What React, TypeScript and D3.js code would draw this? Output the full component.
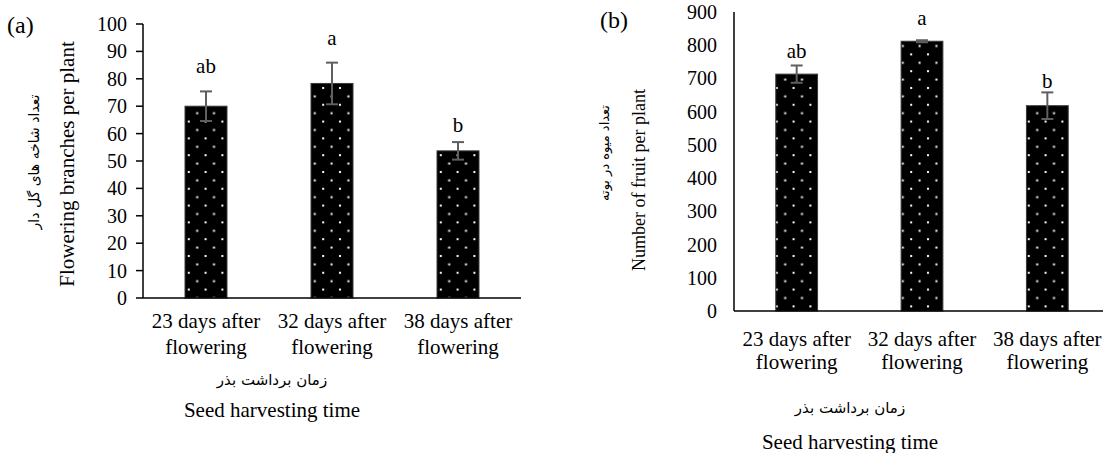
import React from "react";
import * as d3 from "d3";

// categories (two text lines each)
const categories = ["23 days after flowering", "32 days after flowering", "38 days after flowering"];
const categoryLines = [
  ["23 days after", "flowering"],
  ["32 days after", "flowering"],
  ["38 days after", "flowering"],
];

// panel (a) flowering branches per plant
const branchMeans = [70, 78.3, 53.7];
const branchErrors = [5.4, 7.6, 3.2];
const branchLetters = ["ab", "a", "b"];
const branchLetterLevels = [82, 92.3, 60.6];
const branchTicks = [0, 10, 20, 30, 40, 50, 60, 70, 80, 90, 100];

// panel (b) fruit per plant
const fruitMeans = [713, 812, 618];
const fruitErrors = [26, 3, 40];
const fruitLetters = ["ab", "a", "b"];
const fruitLetterLevels = [762, 861, 671];
const fruitTicks = [0, 100, 200, 300, 400, 500, 600, 700, 800, 900];

const serif = "Liberation Serif, Tinos, DejaVu Serif, serif";
const persian = "DejaVu Sans, sans-serif";
const errColor = "#5f5f5f";

type PanelProps = {
  tag: string;
  tagX: number;
  tagY: number;
  means: number[];
  errors: number[];
  letters: string[];
  letterLevels: number[];
  ticks: number[];
  xLeft: number;
  xRight: number;
  yZero: number;
  yTop: number;
  tickMarks: boolean;
  tickLabelX: number;
  yTitle: string;
  yTitleX: number;
  yTitleY: number;
  yTitleSize: number;
  yTitleFa: string;
  yTitleFaX: number;
  yTitleFaY: number;
  yTitleFaSize: number;
  catY1: number;
  catY2: number;
  xTitleX: number;
  xTitleFaY: number;
  xTitleY: number;
};

const Panel = (p: PanelProps) => {
  const y = d3
    .scaleLinear()
    .domain([0, p.ticks[p.ticks.length - 1]])
    .range([p.yZero, p.yTop]);
  const x = d3
    .scaleBand<string>()
    .domain(categories)
    .range([p.xLeft, p.xRight])
    .paddingInner(2 / 3)
    .paddingOuter(1 / 3);
  const bw = x.bandwidth();

  const bars = categories.map((c, i) => (
    <rect
      key={c}
      x={x(c)}
      y={y(p.means[i])}
      width={bw}
      height={y(0) - y(p.means[i])}
      fill="url(#dots)"
      stroke="#3a3a3a"
      strokeWidth={1}
    />
  ));

  const errs = categories.map((c, i) => {
    const cx = (x(c) as number) + bw / 2;
    const hi = y(p.means[i] + p.errors[i]);
    const lo = y(p.means[i] - p.errors[i]);
    return (
      <g key={c} stroke={errColor} strokeWidth={2}>
        <line x1={cx} x2={cx} y1={hi} y2={lo} />
        <line x1={cx - 6} x2={cx + 6} y1={hi} y2={hi} />
        <line x1={cx - 6} x2={cx + 6} y1={lo} y2={lo} />
      </g>
    );
  });

  const letters = categories.map((c, i) => (
    <text
      key={c}
      x={(x(c) as number) + bw / 2}
      y={y(p.letterLevels[i])}
      textAnchor="middle"
      fontSize={21}
    >
      {p.letters[i]}
    </text>
  ));

  const cats = categories.map((c, i) => (
    <text key={c} x={(x(c) as number) + bw / 2} textAnchor="middle" fontSize={21}>
      <tspan x={(x(c) as number) + bw / 2} y={p.catY1}>
        {categoryLines[i][0]}
      </tspan>
      <tspan x={(x(c) as number) + bw / 2} y={p.catY2}>
        {categoryLines[i][1]}
      </tspan>
    </text>
  ));

  const ticks = p.ticks.map((t) => (
    <g key={t}>
      {p.tickMarks && (
        <line x1={p.xLeft - 7} x2={p.xLeft} y1={y(t)} y2={y(t)} stroke="#000" strokeWidth={1.5} />
      )}
      <text x={p.tickLabelX} y={y(t)} dy="0.35em" textAnchor="end" fontSize={20}>
        {t}
      </text>
    </g>
  ));

  return (
    <g style={{ fontFamily: serif }} fill="#000">
      <text x={p.tagX} y={p.tagY} fontSize={24}>
        {p.tag}
      </text>
      {bars}
      {errs}
      {letters}
      <line x1={p.xLeft} x2={p.xLeft} y1={p.yTop} y2={p.yZero} stroke="#000" strokeWidth={1.5} />
      <line x1={p.xLeft} x2={p.xRight} y1={p.yZero} y2={p.yZero} stroke="#000" strokeWidth={1.5} />
      {ticks}
      {cats}
      <text
        transform={`translate(${p.yTitleX},${p.yTitleY}) rotate(-90)`}
        textAnchor="middle"
        fontSize={p.yTitleSize}
      >
        {p.yTitle}
      </text>
      <text
        transform={`translate(${p.yTitleFaX},${p.yTitleFaY}) rotate(-90)`}
        textAnchor="middle"
        fontSize={p.yTitleFaSize}
        style={{ fontFamily: persian }}
        direction="rtl"
      >
        {p.yTitleFa}
      </text>
      <text
        x={p.xTitleX}
        y={p.xTitleFaY}
        textAnchor="middle"
        fontSize={15}
        style={{ fontFamily: persian }}
        direction="rtl"
      >
        زمان برداشت بذر
      </text>
      <text x={p.xTitleX} y={p.xTitleY} textAnchor="middle" fontSize={21}>
        Seed harvesting time
      </text>
    </g>
  );
};

const App = () => {
  return (
    <svg
      width={1103}
      height={453}
      viewBox="0 0 1103 453"
      style={{ position: "absolute", left: 0, top: 0, background: "#fff" }}
    >
      <defs>
        <pattern id="dots" patternUnits="userSpaceOnUse" width={16.8} height={16.8}>
          <rect width={16.8} height={16.8} fill="#000" />
          <rect x={3} y={3} width={2} height={2} fill="#fff" />
          <rect x={11.4} y={11.4} width={2} height={2} fill="#fff" />
        </pattern>
      </defs>
      <Panel
        tag="(a)"
        tagX={7}
        tagY={33}
        means={branchMeans}
        errors={branchErrors}
        letters={branchLetters}
        letterLevels={branchLetterLevels}
        ticks={branchTicks}
        xLeft={143}
        xRight={521}
        yZero={298}
        yTop={24}
        tickMarks={true}
        tickLabelX={127}
        yTitle="Flowering branches per plant"
        yTitleX={74}
        yTitleY={164}
        yTitleSize={21}
        yTitleFa="تعداد شاخه های گل دار"
        yTitleFaX={39}
        yTitleFaY={162}
        yTitleFaSize={14}
        catY1={328}
        catY2={354}
        xTitleX={272}
        xTitleFaY={385}
        xTitleY={417}
      />
      <Panel
        tag="(b)"
        tagX={600}
        tagY={28}
        means={fruitMeans}
        errors={fruitErrors}
        letters={fruitLetters}
        letterLevels={fruitLetterLevels}
        ticks={fruitTicks}
        xLeft={734}
        xRight={1110}
        yZero={311}
        yTop={12}
        tickMarks={false}
        tickLabelX={717}
        yTitle="Number of fruit per plant"
        yTitleX={645}
        yTitleY={180}
        yTitleSize={18}
        yTitleFa="تعداد میوه در بوته"
        yTitleFaX={609}
        yTitleFaY={153}
        yTitleFaSize={13}
        catY1={346}
        catY2={369}
        xTitleX={850}
        xTitleFaY={413}
        xTitleY={449}
      />
    </svg>
  );
};

export default App;
